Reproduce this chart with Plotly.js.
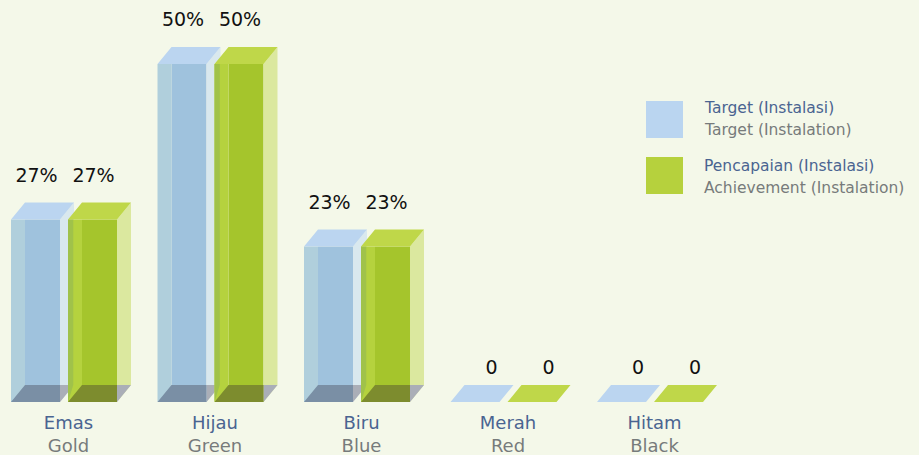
<!DOCTYPE html>
<html>
<head>
<meta charset="utf-8">
<script src="https://cdn.plot.ly/plotly-3.0.1.min.js"></script>
<style>html,body{margin:0;padding:0;background:#f4f8e9;overflow:hidden}#c{width:919px;height:455px}</style>
</head>
<body>
<div id="c"></div>
<script>
const categoriesId = ["Emas", "Hijau", "Biru", "Merah", "Hitam"];
const categoriesEn = ["Gold", "Green", "Blue", "Red", "Black"];
const targetValues = [27, 50, 23, 0, 0];
const achievementValues = [27, 50, 23, 0, 0];
const legendId = ["Target (Instalasi)", "Pencapaian (Instalasi)"];
const legendEn = ["Target (Instalation)", "Achievement (Instalation)"];

const BLUE_TXT = "#4a6491", GREY_TXT = "#777b7b", FONT = "DejaVu Sans";
const W = 919, H = 455, PLOT_H = 402, STEP = 146.5, ZERO_X = 68.5, PX_PER_PCT = 6.76;
const ux = p => p / STEP, uy = p => p / PX_PER_PCT;
const DX = ux(14), DY = uy(17), FW = ux(49), SW = ux(14);
const idx = categoriesId.map((_, i) => i);

function polyTrace(polys, color) {
  const x = [], y = [];
  polys.forEach(p => { p.forEach(q => { x.push(q[0]); y.push(q[1]); }); x.push(null); y.push(null); });
  return {type: "scatter", mode: "lines", x, y, fill: "toself", fillcolor: color,
          line: {width: 0, color: color}, hoverinfo: "skip", showlegend: false};
}

function seriesTraces(vals, off, c, overlap) {
  const x0 = i => i + off;
  const traces = [];
  const main = {type: "bar", x: idx.map(i => x0(i) + SW + (FW - SW) / 2), y: vals, width: FW - SW,
    marker: {color: c.main, line: {width: 0}}, hoverinfo: "skip", showlegend: false};
  const rightFace = vals.map((v, i) => [[x0(i)+FW, v], [x0(i)+FW+DX, v+DY], [x0(i)+FW+DX, DY], [x0(i)+FW, 0]]);
  const leftFace = vals.map((v, i) => [[x0(i), v], [x0(i)+SW, v], [x0(i)+SW, 0], [x0(i), 0]]);
  const bottom = vals.map((v, i) => v > 0 ? [[x0(i), 0], [x0(i)+DX, DY], [x0(i)+FW, DY], [x0(i)+FW, 0]] : []);
  const bottomSide = vals.map((v, i) => v > 0 ? [[x0(i)+FW, 0], [x0(i)+FW, DY], [x0(i)+FW+DX, DY]] : []);
  const top = vals.map((v, i) => [[x0(i), v], [x0(i)+DX, v+DY], [x0(i)+FW+DX, v+DY], [x0(i)+FW, v]]);
  traces.push(main, polyTrace(rightFace, c.right), polyTrace(bottomSide, c.bottomSide), polyTrace(leftFace, c.left));
  if (overlap) {
    const ov = vals.map((v, i) => v > 0 ? [[x0(i), v], [x0(i)+ux(5.3), v], [x0(i)+ux(5.3), DY], [x0(i), 0]] : []);
    traces.push(polyTrace(ov, c.overlap));
  }
  traces.push(polyTrace(bottom, c.bottom), polyTrace(top, c.top));
  return traces;
}

const offT = ux(11 - ZERO_X), offG = ux(68 - ZERO_X);
const blue = {main: "#9fc2dd", left: "#b0cfdc", right: "#d9e8ee", top: "#bbd5f0", bottom: "#7a8fa5", bottomSide: "#aaaeb7"};
const green = {main: "#a5c52c", left: "#b5d23e", right: "#dbe89f", top: "#bfd749", bottom: "#7d8c2e", bottomSide: "#aaaeb7", overlap: "#a0c24a"};

function labelTrace(vals, off) {
  return {type: "scatter", mode: "text",
    x: vals.map((v, i) => i + off + ux(v > 0 ? 25.5 : 41)),
    y: vals.map(v => v + DY + uy(v > 0 ? 25.5 : 15.5)),
    text: vals.map(v => v > 0 ? v + "%" : "0"),
    textposition: "middle center", textfont: {family: FONT, size: 19, color: "#111"},
    hoverinfo: "skip", showlegend: false, cliponaxis: false};
}

const data = [
  ...seriesTraces(targetValues, offT, blue, false),
  ...seriesTraces(achievementValues, offG, green, true),
  labelTrace(targetValues, offT), labelTrace(achievementValues, offG)
];

const tickText = categoriesId.map((c, i) =>
  `<span style="color:${BLUE_TXT}">${c}</span><br><span style="color:${GREY_TXT}">${categoriesEn[i]}</span>`);

const px = p => p / W, py = p => 1 - p / PLOT_H;
const swatchColors = ["#bad5f0", "#b6d13d"], swatchTops = [101, 157], legendLineY = [[7, 29], [9, 31]];
const shapes = swatchTops.map((t, k) => ({type: "rect", xref: "paper", yref: "paper", layer: "above",
  x0: px(646), x1: px(683), y0: py(t + 37), y1: py(t), fillcolor: swatchColors[k], line: {width: 0}}));
const annotations = [];
legendId.forEach((s, k) => {
  [[s, BLUE_TXT, legendLineY[k][0]], [legendEn[k], GREY_TXT, legendLineY[k][1]]].forEach(a => annotations.push({
    xref: "paper", yref: "paper", x: px(704), y: py(swatchTops[k] + a[2]), xanchor: "left", yanchor: "middle",
    text: a[0], showarrow: false, font: {family: FONT, size: 15.5, color: a[1]}, borderpad: 0, xshift: -1
  }));
});

const layout = {
  width: W, height: H, margin: {l: 0, r: 0, t: 0, b: H - PLOT_H, pad: 0},
  paper_bgcolor: "#f4f8e9", plot_bgcolor: "#f4f8e9", barmode: "overlay", showlegend: false,
  font: {family: FONT},
  xaxis: {type: "linear", range: [ux(-ZERO_X), ux(W - ZERO_X)], tickmode: "array", tickvals: idx, ticktext: tickText,
    ticks: "", showgrid: false, zeroline: false, showline: false, fixedrange: true,
    tickfont: {family: FONT, size: 18, color: BLUE_TXT}, ticklabelstandoff: 8, automargin: false},
  yaxis: {range: [0, uy(PLOT_H)], showgrid: false, zeroline: false, showline: false, showticklabels: false, ticks: "", fixedrange: true},
  shapes, annotations
};
Plotly.newPlot("c", data, layout, {displayModeBar: false, staticPlot: true});
</script>
</body>
</html>
